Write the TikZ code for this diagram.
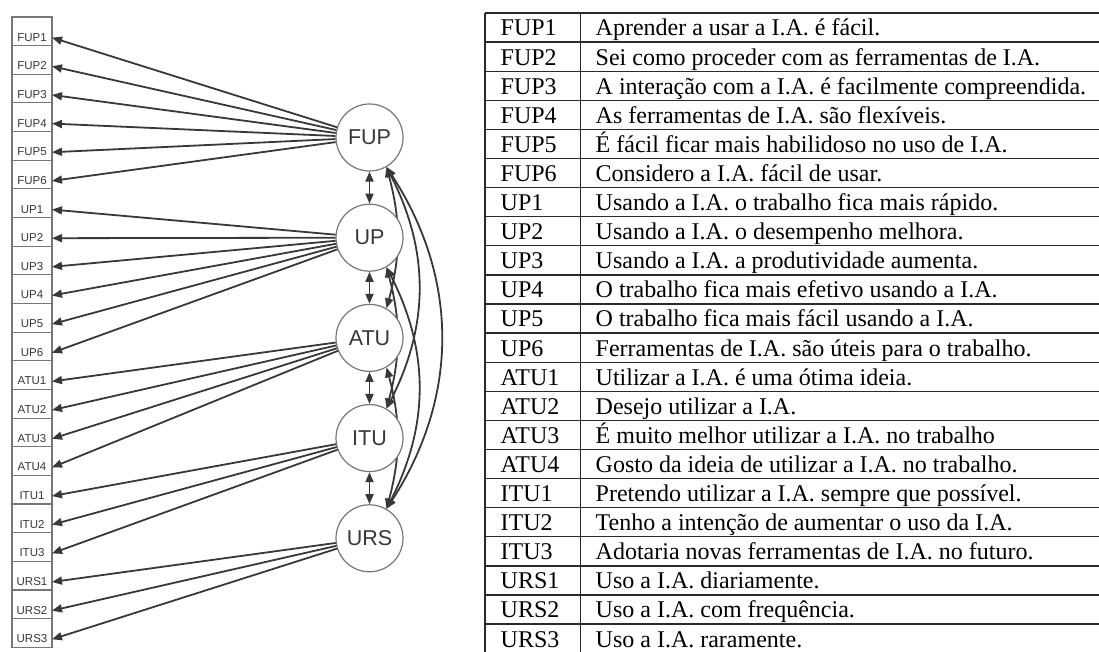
\documentclass[tikz,border=0pt]{standalone}
\usepackage{fontspec}
\setmainfont{Liberation Serif}
\setsansfont{Liberation Sans}
\newfontfamily\tabfont{Liberation Serif}
\newfontfamily\indfont{Liberation Sans}
\usetikzlibrary{arrows.meta,positioning,backgrounds}
\definecolor{ink}{HTML}{383838}
\definecolor{rim}{HTML}{777777}
\definecolor{rule}{HTML}{2A2A2A}
\tikzset{
  ind/.style={draw=rim, line width=1.1pt, rectangle, minimum width=40pt, inner sep=0pt, outer sep=0pt,
    text height=24.15pt, text depth=4.5pt, font=\indfont\fontsize{11.5}{13}\selectfont, text=ink},
  fac/.style={draw=rim, line width=1.2pt, circle, fill=white, minimum size=67pt, inner sep=0pt,
    font=\sffamily\fontsize{21.5}{24}\selectfont, text=ink},
  load/.style={-{Triangle[length=10pt,width=8pt]}, line width=1.8pt, draw=ink},
  cov/.style={{Triangle[length=10pt,width=8pt]}-{Triangle[length=10pt,width=8pt]}, line width=1.8pt, draw=ink},
  cell/.style={anchor=base west, inner sep=0pt, font=\tabfont\fontsize{24}{28}\selectfont},
  grid/.style={draw=rule, line width=1.3pt}
}

\begin{document}
\begin{tikzpicture}[x=1pt, y=1pt]
\clip (0,0) rectangle (1099,652);
% indicators
\foreach \n [count=\i] in {FUP1,FUP2,FUP3,FUP4,FUP5,FUP6,UP1,UP2,UP3,UP4,UP5,UP6,
  ATU1,ATU2,ATU3,ATU4,ITU1,ITU2,ITU3,URS1,URS2,URS3}
  \node[ind] (\n) at (32,649.325-28.65*\i) {\n};
% factors
\node[fac] (FUP) at (369.5,514.5) {FUP};
\node[fac, below=32pt of FUP] (UP) {UP};
\node[fac, below=32pt of UP] (ATU) {ATU};
\node[fac, below=32pt of ATU] (ITU) {ITU};
\node[fac, below=32pt of ITU] (URS) {URS};
% loadings
\foreach \f/\list in {FUP/{FUP1,FUP2,FUP3,FUP4,FUP5,FUP6},UP/{UP1,UP2,UP3,UP4,UP5,UP6},
  ATU/{ATU1,ATU2,ATU3,ATU4},ITU/{ITU1,ITU2,ITU3},URS/{URS1,URS2,URS3}}
  \foreach \n in \list \draw[load] (\f) -- ([yshift=3.5pt]\n.base east);
% covariances
\foreach \a/\b in {FUP/UP,UP/ATU,ATU/ITU,ITU/URS} \draw[cov] (\a) -- (\b);
\begin{scope}[on background layer]
\draw[cov] (FUP.-60) to[bend left=15] (ATU.60);
\draw[cov] (UP.-60) to[bend left=15] (ITU.60);
\draw[cov] (ATU.-60) to[bend left=15] (URS.60);
\draw[cov] (FUP.-60) to[bend left=27] (ITU.60);
\draw[cov] (UP.-60) to[bend left=27] (URS.60);
\draw[cov] (FUP.-60) to[bend left=33] (URS.60);
\end{scope}
% item table
\foreach \c/\t [count=\i] in {
  FUP1/Aprender a usar a I.A. é fácil.,
  FUP2/Sei como proceder com as ferramentas de I.A.,
  FUP3/A interação com a I.A. é facilmente compreendida.,
  FUP4/As ferramentas de I.A. são flexíveis.,
  FUP5/É fácil ficar mais habilidoso no uso de I.A.,
  FUP6/Considero a I.A. fácil de usar.,
  UP1/Usando a I.A. o trabalho fica mais rápido.,
  UP2/Usando a I.A. o desempenho melhora.,
  UP3/Usando a I.A. a produtividade aumenta.,
  UP4/O trabalho fica mais efetivo usando a I.A.,
  UP5/O trabalho fica mais fácil usando a I.A.,
  UP6/Ferramentas de I.A. são úteis para o trabalho.,
  ATU1/Utilizar a I.A. é uma ótima ideia.,
  ATU2/Desejo utilizar a I.A.,
  ATU3/É muito melhor utilizar a I.A. no trabalho,
  ATU4/Gosto da ideia de utilizar a I.A. no trabalho.,
  ITU1/Pretendo utilizar a I.A. sempre que possível.,
  ITU2/Tenho a intenção de aumentar o uso da I.A.,
  ITU3/Adotaria novas ferramentas de I.A. no futuro.,
  URS1/Uso a I.A. diariamente.,
  URS2/Uso a I.A. com frequência.,
  URS3/Uso a I.A. raramente.}{
  \node[cell] (code\i) at (500.5,645.1-29.1*\i) {\c};
  \node[cell] (item\i) at (595.5,645.1-29.1*\i) {\t};
}
\foreach \i in {0,...,22} \draw[grid] (485,639-29.1*\i) -- (1100,639-29.1*\i);
\draw[grid] (485,639) -- (485,-10);
\draw[grid] (580.7,639) -- (580.7,-10);
\end{tikzpicture}
\end{document}
